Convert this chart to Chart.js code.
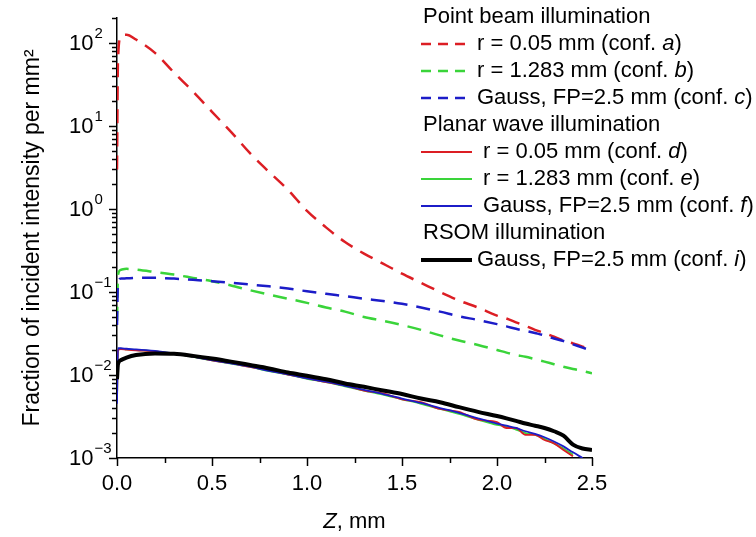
<!DOCTYPE html>
<html>
<head>
<meta charset="utf-8">
<script src="https://cdn.jsdelivr.net/npm/chart.js@4.4.1/dist/chart.umd.min.js"></script>
<style>
  html, body { margin: 0; padding: 0; background: #fff; }
  #wrap { width: 756px; height: 537px; }
</style>
</head>
<body>
<div id="wrap"><canvas id="myChart" width="756" height="537"></canvas></div>
<script>
// * Depth Z, mm (shared by every curve)
const zValues = [0, 0.005, 0.02, 0.05, 0.1, 0.2, 0.3, 0.4, 0.5, 0.6, 0.7, 0.8, 0.9, 1.0,
    1.1, 1.2, 1.3, 1.4, 1.5, 1.6, 1.7, 1.8, 1.9, 2.0, 2.05, 2.1, 2.15, 2.2, 2.25, 2.3,
    2.35, 2.4, 2.45, 2.5];

// * Point beam illumination (dashed)
const pointR005 = [3, 60, 120, 126, 110, 76, 44, 26, 14.8, 8.5, 4.7, 2.8, 1.7, 0.95,
    0.6, 0.4, 0.29, 0.22, 0.166, 0.129, 0.1, 0.079, 0.065, 0.052, 0.048, 0.043, 0.039,
    0.035, 0.032, 0.029, 0.026, 0.024, 0.022, 0.02];
const pointR1283 = [0.045, 0.16, 0.185, 0.19, 0.186, 0.174, 0.162, 0.148, 0.135, 0.12,
    0.105, 0.093, 0.083, 0.074, 0.065, 0.058, 0.05, 0.045, 0.04, 0.035, 0.03, 0.026,
    0.023, 0.02, 0.0186, 0.0174, 0.0166, 0.0155, 0.0145, 0.0135, 0.0126, 0.0118, 0.0112, 0.0105];
const pointGauss = [0.04, 0.13, 0.145, 0.146, 0.148, 0.148, 0.145, 0.14, 0.135, 0.129,
    0.123, 0.117, 0.11, 0.102, 0.095, 0.089, 0.083, 0.078, 0.072, 0.065, 0.058, 0.051,
    0.046, 0.041, 0.0385, 0.036, 0.034, 0.032, 0.03, 0.0275, 0.0257, 0.0234, 0.0214, 0.0195];

// * Planar wave illumination (solid)
const planarR005 = [0.005, 0.02, 0.0205, 0.0202, 0.0198, 0.0193, 0.018, 0.0167, 0.015,
    0.0139, 0.0125, 0.0114, 0.0101, 0.0092, 0.0082, 0.0075, 0.0065, 0.006, 0.0051, 0.0047,
    0.0039, 0.0036, 0.0029, 0.0027, 0.0023, 0.0023, 0.0019, 0.0019, 0.00165, 0.0015,
    0.00125, 0.00105, null, null];
const planarR1283 = [0.0048, 0.0205, 0.0207, 0.0204, 0.02, 0.0193, 0.0181, 0.0165, 0.015,
    0.0137, 0.0125, 0.0111, 0.0101, 0.009, 0.0082, 0.0073, 0.0065, 0.0058, 0.0051, 0.0045,
    0.0039, 0.0034, 0.0029, 0.0025, 0.0024, 0.0022, 0.002, 0.0019, 0.0017, 0.0015,
    0.0013, 0.0011, null, null];
const planarGauss = [0.0045, 0.021, 0.021, 0.0207, 0.0204, 0.0195, 0.0182, 0.0166, 0.0151,
    0.0138, 0.0126, 0.0112, 0.0102, 0.0091, 0.0083, 0.0074, 0.0066, 0.0059, 0.0052, 0.0046,
    0.004, 0.0035, 0.003, 0.0026, 0.00245, 0.0023, 0.0021, 0.00195, 0.00178, 0.00158,
    0.00138, 0.00117, 0.001, null];

// * RSOM illumination (thick black)
const rsomGauss = [0.0089, 0.0135, 0.0151, 0.0162, 0.0174, 0.0182, 0.018, 0.017, 0.0158,
    0.0145, 0.0132, 0.012, 0.0107, 0.0098, 0.0089, 0.0079, 0.0072, 0.0065, 0.0059, 0.0052,
    0.0047, 0.0041, 0.0036, 0.0032, 0.003, 0.0028, 0.0026, 0.00245, 0.0023, 0.0021,
    0.00186, 0.00145, 0.0013, 0.00125];

// * Tick labels
const xTickLabels = ["0.0", "0.5", "1.0", "1.5", "2.0", "2.5"];
const yTickValues = [0.001, 0.01, 0.1, 1, 10, 100];
const yTickExponents = ["-3", "-2", "-1", "0", "1", "2"];

const FONT = "'Liberation Sans', Arial, sans-serif";
const RED = "#dc1e24";
const GREEN = "#3ad43a";
const BLUE = "#1c1cc8";

const toPoints = (arr) =>
    zValues.map((z, i) => ({ x: z, y: arr[i] })).filter((p) => p.y !== null);

const dashed = [14, 9];

const datasets = [
    { label: "r = 0.05 mm (conf. a)", data: toPoints(pointR005), borderColor: RED, borderDash: dashed, borderWidth: 2.5, order: 7 },
    { label: "r = 1.283 mm (conf. b)", data: toPoints(pointR1283), borderColor: GREEN, borderDash: dashed, borderWidth: 2.5, order: 6 },
    { label: "Gauss, FP=2.5 mm (conf. c)", data: toPoints(pointGauss), borderColor: BLUE, borderDash: dashed, borderWidth: 2.5, order: 5 },
    { label: "r = 0.05 mm (conf. d)", data: toPoints(planarR005), borderColor: RED, borderWidth: 1.8, order: 3 },
    { label: "r = 1.283 mm (conf. e)", data: toPoints(planarR1283), borderColor: GREEN, borderWidth: 1.8, order: 4 },
    { label: "Gauss, FP=2.5 mm (conf. f)", data: toPoints(planarGauss), borderColor: BLUE, borderWidth: 1.8, order: 2 },
    { label: "Gauss, FP=2.5 mm (conf. i)", data: toPoints(rsomGauss), borderColor: "#000", borderWidth: 4, order: 1 },
];
datasets.forEach((d) => {
    d.pointRadius = 0;
    d.fill = false;
    d.cubicInterpolationMode = "monotone";
});

const legendGroups = [
    { title: "Point beam illumination", items: [0, 1, 2], y: 17 },
    { title: "Planar wave illumination", items: [3, 4, 5], y: 125 },
    { title: "RSOM illumination", items: [6], y: 233 },
];

// * Axis ticks, log labels with superscripts, x title and the grouped legend
const decorPlugin = {
    id: "decor",
    afterDraw(chart) {
        const ctx = chart.ctx;
        const xs = chart.scales.x;
        const ys = chart.scales.y;
        const area = chart.chartArea;
        ctx.save();
        ctx.strokeStyle = "#000";
        ctx.lineWidth = 1.5;

        // y ticks (1..9 per decade)
        for (let d = -3; d <= 2; d++) {
            for (let k = 1; k <= 9; k++) {
                const v = k * Math.pow(10, d);
                if (v > ys.max * 1.0001) break;
                const y = Math.round(ys.getPixelForValue(v)) + 0.5;
                const len = k === 1 ? 8 : 5;
                ctx.beginPath();
                ctx.moveTo(area.left - len, y);
                ctx.lineTo(area.left, y);
                ctx.stroke();
            }
        }
        // x ticks
        for (let i = 0; i <= 10; i++) {
            const x = Math.round(xs.getPixelForValue(i * 0.25)) + 0.5;
            const len = i % 2 === 0 ? 8 : 5;
            ctx.beginPath();
            ctx.moveTo(x, area.bottom);
            ctx.lineTo(x, area.bottom + len);
            ctx.stroke();
        }

        // y tick labels 10^n
        ctx.fillStyle = "#000";
        ctx.textBaseline = "middle";
        ctx.textAlign = "left";
        yTickValues.forEach((v, i) => {
            const y = ys.getPixelForValue(v);
            ctx.font = "22px " + FONT;
            ctx.fillText("10", 69, y + 1);
            const w = ctx.measureText("10").width;
            ctx.font = "15px " + FONT;
            ctx.fillText(yTickExponents[i].replace("-", "\u2212"), 69 + w + 1, y - 9);
        });

        // x title with italic Z
        ctx.textBaseline = "middle";
        ctx.font = "italic 22px " + FONT;
        const zW = ctx.measureText("Z").width;
        ctx.font = "22px " + FONT;
        const restW = ctx.measureText(", mm").width;
        const cx = (area.left + area.right) / 2;
        const tx = cx - (zW + restW) / 2;
        ctx.font = "italic 22px " + FONT;
        ctx.fillText("Z", tx, 522);
        ctx.font = "22px " + FONT;
        ctx.fillText(", mm", tx + zW, 522);

        // legend
        const rowH = 27;
        legendGroups.forEach((g) => {
            ctx.font = "22px " + FONT;
            ctx.fillStyle = "#000";
            ctx.fillText(g.title, 423, g.y);
            g.items.forEach((idx, j) => {
                const ds = chart.data.datasets[idx];
                const y = g.y + rowH * (j + 1);
                ctx.save();
                ctx.strokeStyle = ds.borderColor;
                ctx.lineWidth = ds.borderWidth;
                ctx.setLineDash(ds.borderDash ? [10, 7] : []);
                ctx.beginPath();
                ctx.moveTo(421, y);
                ctx.lineTo(472, y);
                ctx.stroke();
                ctx.restore();
                const m = ds.label.match(/^(.*\(conf\. )(\w)\)$/);
                const tx0 = ds.borderDash || idx === 6 ? 477 : 483;
                ctx.font = "22px " + FONT;
                ctx.fillText(m[1], tx0, y);
                let w = ctx.measureText(m[1]).width;
                ctx.font = "italic 22px " + FONT;
                ctx.fillText(m[2], tx0 + w, y);
                w += ctx.measureText(m[2]).width;
                ctx.font = "22px " + FONT;
                ctx.fillText(")", tx0 + w, y);
            });
        });
        ctx.restore();
    },
};

const config = {
    type: "line",
    data: { datasets },
    options: {
        responsive: false,
        animation: false,
        layout: { padding: { top: 18, right: 164, left: 0, bottom: 0 } },
        plugins: { legend: { display: false }, tooltip: { enabled: false } },
        scales: {
            x: {
                type: "linear",
                min: 0,
                max: 2.5,
                afterFit: (scale) => { scale.height = 79; },
                grid: { display: false, drawTicks: false },
                border: { display: true, color: "#000", width: 1.5 },
                ticks: {
                    stepSize: 0.5,
                    padding: 13,
                    color: "#000",
                    font: { family: FONT, size: 22 },
                    maxRotation: 0,
                    callback: (v) => xTickLabels[Math.round(v / 0.5)],
                },
            },
            y: {
                type: "logarithmic",
                min: 0.001,
                max: 200,
                afterFit: (scale) => { scale.width = 117; },
                grid: { display: false, drawTicks: false },
                border: { display: true, color: "#000", width: 1.5 },
                ticks: { display: false },
                title: {
                    display: true,
                    text: "Fraction of incident intensity per mm\u00B2",
                    color: "#000",
                    font: { family: FONT, size: 23 },
                    padding: { top: 19, bottom: 0 },
                },
            },
        },
    },
    plugins: [decorPlugin],
};

const ctx = document.getElementById("myChart").getContext("2d");
const chart = new Chart(ctx, config);
</script>
</body>
</html>
